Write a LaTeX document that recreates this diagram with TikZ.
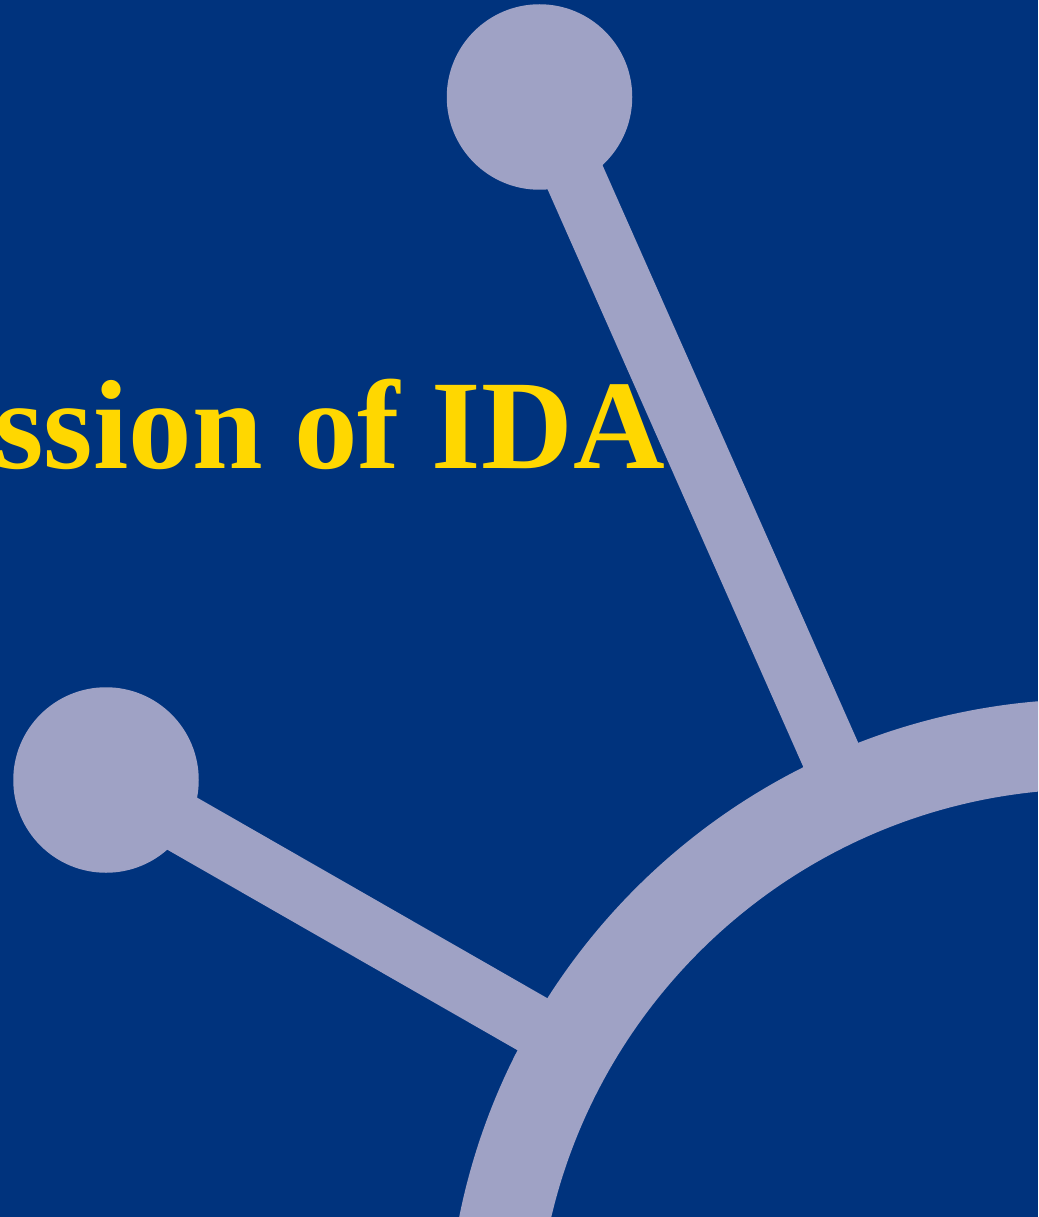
\documentclass[tikz,border=0pt]{standalone}
\usepackage{fontspec}
\setmainfont{Liberation Serif}
\definecolor{bgblue}{HTML}{00337D}
\definecolor{lilac}{HTML}{9FA2C5}
\definecolor{titlegold}{HTML}{FFD700}
\tikzset{
  ball/.style={circle,fill=lilac,inner sep=0pt,minimum size=185.5pt},
  spoke/.style={draw=lilac,line width=60pt},
  ring/.style={draw=lilac,line width=90pt},
  titletext/.style={text=titlegold,inner sep=0pt,anchor=base east,font=\bfseries\fontsize{127}{127}\selectfont}
}
\begin{document}
\begin{tikzpicture}[x=1pt,y=-1pt]
\useasboundingbox (0,0) rectangle (1038,1217);
\clip (0,0) rectangle (1038,1217);
\fill[bgblue] (0,0) rectangle (1038,1217);
\coordinate (hub) at (1092.5,1345);
\coordinate (joinA) at (848.8,795.6);
\coordinate (joinB) at (571,1046.3);
\draw[ring] (hub) circle[radius=601pt];
\node[ball] (ballA) at (539.5,97) {};
\node[ball] (ballB) at (106,780) {};
\draw[spoke] (ballA.center) -- (joinA);
\draw[spoke] (ballB.center) -- (joinB);
\node[titletext] (title) at (665,468) {ssion of IDA};
\end{tikzpicture}
\end{document}
